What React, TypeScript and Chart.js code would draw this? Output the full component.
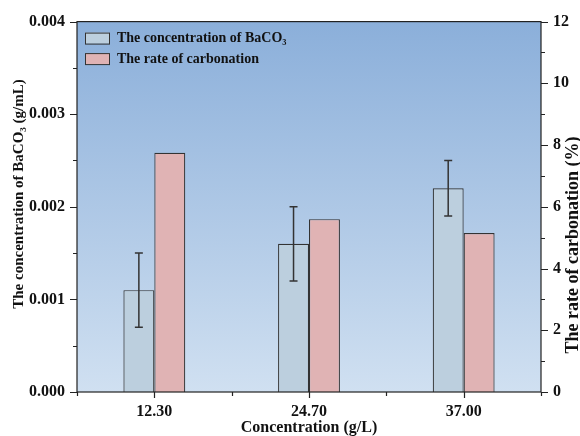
import React, { useEffect, useRef } from "react";
import { Chart, registerables } from "chart.js";

Chart.register(...registerables);

const categories = ["12.30", "24.70", "37.00"];
const baco3Conc = [0.0011, 0.0016, 0.0022];
const baco3Err = [0.0004, 0.0004, 0.0003];
const carbonationRate = [7.75, 5.6, 5.15];
const leftMajorTicks = [0, 0.001, 0.002, 0.003, 0.004];
const leftMinorTicks = [0.0005, 0.0015, 0.0025, 0.0035];
const rightMajorTicks = [0, 2, 4, 6, 8, 10, 12];
const rightMinorTicks = [1, 3, 5, 7, 9, 11];
const legendLabels = ["The concentration of BaCO\u2083", "The rate of carbonation"];
const xTitle = "Concentration (g/L)";
const leftTitle = "The concentration of BaCO\u2083 (g/mL)";
const rightTitle = "The rate of carbonation (%)";

const FONT = "'Liberation Serif', 'Times New Roman', serif";
const BLUE = "#bccfde";
const RED = "#e0b3b4";
const EDGE = "#333333";

const bgPlugin = {
  id: "bgGradient",
  beforeDatasetsDraw(chart: any) {
    const { ctx, chartArea: a } = chart;
    const g = ctx.createLinearGradient(0, a.top, 0, a.bottom);
    g.addColorStop(0, "rgb(139,175,218)");
    g.addColorStop(1, "rgb(208,224,241)");
    ctx.save();
    ctx.fillStyle = g;
    ctx.fillRect(a.left, a.top, a.right - a.left, a.bottom - a.top);
    ctx.restore();
  },
};

const errPlugin = {
  id: "errBars",
  afterDatasetsDraw(chart: any) {
    const { ctx } = chart;
    const meta = chart.getDatasetMeta(0);
    const ys = chart.scales.y;
    ctx.save();
    ctx.strokeStyle = "#333";
    ctx.lineWidth = 1.5;
    meta.data.forEach((el: any, i: number) => {
      const x = el.x;
      const t = ys.getPixelForValue(baco3Conc[i] + baco3Err[i]);
      const b = ys.getPixelForValue(baco3Conc[i] - baco3Err[i]);
      ctx.beginPath();
      ctx.moveTo(x, t);
      ctx.lineTo(x, b);
      ctx.moveTo(x - 4, t);
      ctx.lineTo(x + 4, t);
      ctx.moveTo(x - 4, b);
      ctx.lineTo(x + 4, b);
      ctx.stroke();
    });
    ctx.restore();
  },
};

const framePlugin = {
  id: "frame",
  afterDraw(chart: any) {
    const { ctx, chartArea: a, scales } = chart;
    ctx.save();
    ctx.strokeStyle = "#222";
    ctx.lineWidth = 1.2;
    ctx.strokeRect(a.left, a.top, a.right - a.left, a.bottom - a.top);
    ctx.beginPath();
    leftMajorTicks.forEach((v) => {
      const y = Math.round(scales.y.getPixelForValue(v)) + 0.5;
      ctx.moveTo(a.left - 7, y);
      ctx.lineTo(a.left, y);
    });
    leftMinorTicks.forEach((v) => {
      const y = Math.round(scales.y.getPixelForValue(v)) + 0.5;
      ctx.moveTo(a.left - 4, y);
      ctx.lineTo(a.left, y);
    });
    rightMajorTicks.forEach((v) => {
      const y = Math.round(scales.y1.getPixelForValue(v)) + 0.5;
      ctx.moveTo(a.right, y);
      ctx.lineTo(a.right + 7, y);
    });
    rightMinorTicks.forEach((v) => {
      const y = Math.round(scales.y1.getPixelForValue(v)) + 0.5;
      ctx.moveTo(a.right, y);
      ctx.lineTo(a.right + 4, y);
    });
    categories.forEach((_, i) => {
      const x = Math.round(scales.x.getPixelForValue(i)) + 0.5;
      ctx.moveTo(x, a.bottom);
      ctx.lineTo(x, a.bottom + 6);
    });
    for (let i = 0; i <= categories.length; i++) {
      const x = Math.round(scales.x.getPixelForValue(i - 0.5)) + 0.5;
      ctx.moveTo(x, a.bottom);
      ctx.lineTo(x, a.bottom + 4);
    }
    ctx.stroke();

    // axis titles (both read bottom-to-top)
    ctx.fillStyle = "#111";
    ctx.textAlign = "center";
    ctx.textBaseline = "middle";
    ctx.font = `bold 15px ${FONT}`;
    ctx.save();
    ctx.translate(19, 194);
    ctx.rotate(-Math.PI / 2);
    ctx.fillText(leftTitle, 0, 0);
    ctx.restore();
    ctx.font = `bold 18px ${FONT}`;
    ctx.save();
    ctx.translate(573, 245);
    ctx.rotate(-Math.PI / 2);
    ctx.fillText(rightTitle, 0, 0);
    ctx.restore();

    // legend
    const colors = [BLUE, RED];
    ctx.textAlign = "left";
    ctx.font = `bold 14px ${FONT}`;
    legendLabels.forEach((lab, i) => {
      const bx = a.left + 8;
      const by = a.top + 11 + i * 20.5;
      ctx.fillStyle = colors[i];
      ctx.fillRect(bx, by, 24, 11);
      ctx.strokeStyle = EDGE;
      ctx.lineWidth = 1;
      ctx.strokeRect(bx + 0.5, by + 0.5, 24, 11);
      ctx.fillStyle = "#111";
      ctx.fillText(lab, bx + 32, by + 6);
    });
    ctx.restore();
  },
};

export default function App() {
  const ref = useRef<HTMLCanvasElement>(null);
  useEffect(() => {
    if (!ref.current) return;
    const tickFont = { family: FONT, size: 16, weight: "bold" };
    const chart = new Chart(ref.current, {
      type: "bar",
      data: {
        labels: categories,
        datasets: [
          {
            label: legendLabels[0],
            data: baco3Conc,
            yAxisID: "y",
            backgroundColor: BLUE,
            borderColor: EDGE,
            borderWidth: 1.2,
            barPercentage: 1,
            categoryPercentage: 0.4,
          },
          {
            label: legendLabels[1],
            data: carbonationRate,
            yAxisID: "y1",
            backgroundColor: RED,
            borderColor: EDGE,
            borderWidth: 1.2,
            barPercentage: 1,
            categoryPercentage: 0.4,
          },
        ],
      },
      options: {
        responsive: false,
        animation: false,
        layout: { padding: { top: 17, left: 0, right: 0, bottom: 0 } },
        plugins: { legend: { display: false }, tooltip: { enabled: false } },
        scales: {
          x: {
            type: "category",
            grid: { display: false, drawTicks: false },
            border: { display: false },
            ticks: { color: "#111", font: tickFont, padding: 10, maxRotation: 0 },
            title: {
              display: true,
              text: xTitle,
              color: "#111",
              font: { family: FONT, size: 16, weight: "bold" },
              padding: { top: 0, bottom: -1 },
            },
            afterFit: (s: any) => {
              s.height = 44;
            },
          },
          y: {
            position: "left",
            min: 0,
            max: 0.004,
            grid: { display: false, drawTicks: false },
            border: { display: false },
            ticks: {
              stepSize: 0.001,
              color: "#111",
              font: tickFont,
              padding: 12,
              callback: (v: any) => Number(v).toFixed(3),
            },
            afterFit: (s: any) => {
              s.width = 77;
            },
          },
          y1: {
            position: "right",
            min: 0,
            max: 12,
            grid: { display: false, drawTicks: false },
            border: { display: false },
            ticks: {
              stepSize: 2,
              color: "#111",
              font: tickFont,
              padding: 12,
            },
            afterFit: (s: any) => {
              s.width = 39;
            },
          },
        },
      },
      plugins: [bgPlugin, errPlugin, framePlugin],
    } as any);
    return () => chart.destroy();
  }, []);
  return (
    <div style={{ position: "fixed", left: 0, top: 0, width: 580, height: 436, background: "#fff" }}>
      <canvas ref={ref} width={580} height={436} style={{ width: 580, height: 436 }} />
    </div>
  );
}
